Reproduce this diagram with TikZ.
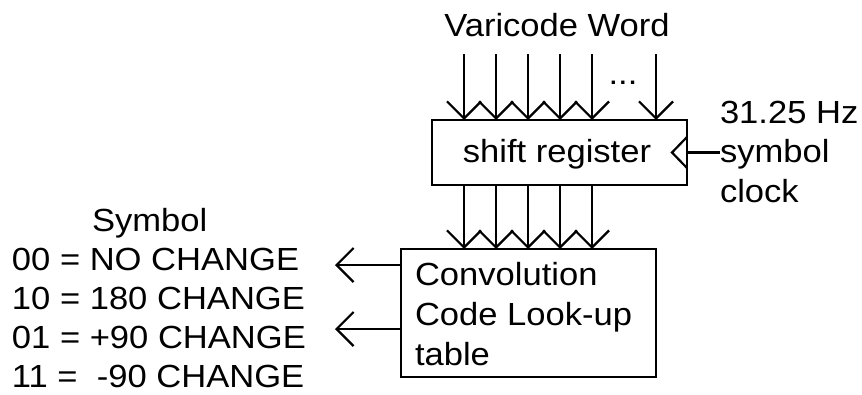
\documentclass[tikz,border=0pt]{standalone}
\usepackage{fontspec}
\setmainfont{Liberation Sans}[FakeStretch=1.08]
\usetikzlibrary{arrows.meta}
\begin{document}
\begin{tikzpicture}[x=1pt,y=-1pt,
  lw/.style={line width=2.2pt},
  box/.style={lw,draw=black},
  txt/.style={inner sep=0pt,outer sep=0pt,anchor=base west,font=\fontsize{32}{38}\selectfont},
  ctxt/.style={inner sep=0pt,outer sep=0pt,anchor=base,font=\fontsize{32}{38}\selectfont},
  arr/.style={lw,-{Straight Barb[length=17pt,width=34pt,line width=2.2pt]}},
]
\useasboundingbox[fill=white] (0,0) rectangle (862,394);
% title
\node[ctxt] (title) at (557,36) {Varicode Word};
% shift register
\draw[box] (432,120) rectangle (687,185);
\node[ctxt] (sr) at (557,162) {shift register};
\foreach \i/\x in {1/464,2/496,3/528,4/560,5/592,6/656}{
  \coordinate (in\i) at (\x,54);
  \coordinate (int\i) at (\x,120);
  \draw[arr] (in\i) -- (int\i);
}
\node[ctxt] (dots) at (623,84) {...};
% clock
\coordinate (ca) at (687,137);
\coordinate (cb) at (672,152.5);
\coordinate (cc) at (687,168);
\draw[lw] (ca) -- (cb) -- (cc);
\coordinate (cr) at (687,152.5);
\coordinate (cl) at (720,152.5);
\draw[lw] (cr) -- (cl);
\node[txt] (hz) at (720,123) {31.25 Hz};
\node[txt] (sym) at (720,162) {symbol};
\node[txt] (clk) at (720,202) {clock};
% middle arrows
\foreach \i/\x in {1/464,2/496,3/528,4/560,5/592}{
  \coordinate (m\i) at (\x,185);
  \coordinate (mt\i) at (\x,249);
  \draw[arr] (m\i) -- (mt\i);
}
% convolution box
\draw[box] (401,249) rectangle (656,377);
\node[txt] (cv1) at (415,285) {Convolution};
\node[txt] (cv2) at (415,325) {Code Look-up};
\node[txt] (cv3) at (415,365) {table};
% outputs
\coordinate (o1s) at (401,265);
\coordinate (o1e) at (335,265);
\coordinate (o2s) at (401,329);
\coordinate (o2e) at (335,329);
\draw[arr] (o1s) -- (o1e);
\draw[arr] (o2s) -- (o2e);
% symbol table
\node[txt] (symh) at (92,231) {Symbol};
\node[txt] (s1) at (12,270) {00 = NO CHANGE};
\node[txt] (s2) at (12,309) {10 = 180 CHANGE};
\node[txt] (s3) at (12,348) {01 = +90 CHANGE};
\node[txt] (s4) at (12,387) {11 = \ -90 CHANGE};
\end{tikzpicture}
\end{document}
